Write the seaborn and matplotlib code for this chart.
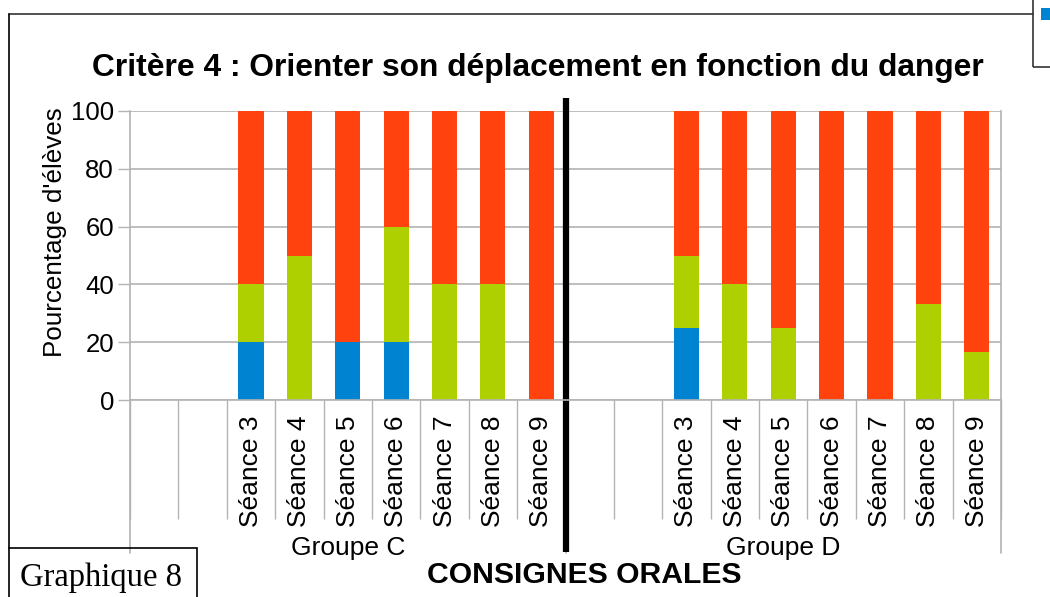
import numpy as np
import pandas as pd
import matplotlib
matplotlib.use("Agg")
import matplotlib.pyplot as plt
from matplotlib.patches import Rectangle
from matplotlib.lines import Line2D
import seaborn as sns

# données (pourcentage d'élèves)
groupes = ["Groupe C", "Groupe D"]
seances = ["Séance 3", "Séance 4", "Séance 5", "Séance 6", "Séance 7", "Séance 8", "Séance 9"]
bleu_c = [20, 0, 20, 20, 0, 0, 0]
vert_c = [20, 50, 0, 40, 40, 40, 0]
rouge_c = [60, 50, 80, 40, 60, 60, 100]
bleu_d = [25, 0, 0, 0, 0, 0, 0]
vert_d = [25, 40, 25, 0, 0, 33.3, 16.7]
rouge_d = [50, 60, 75, 100, 100, 66.7, 83.3]
vides = ["", ""]  # deux colonnes vides avant chaque groupe

c_bleu = "#0084d1"
c_vert = "#aecf00"
c_rouge = "#ff420e"
c_gris = "#b3b3b3"

rows = []
for g, b, v, r in [(groupes[0], bleu_c, vert_c, rouge_c), (groupes[1], bleu_d, vert_d, rouge_d)]:
    for s, bb, vv, rr in zip(seances, b, v, r):
        rows.append({"slot": g + "|" + s, "groupe": g, "bleu": bb, "vert": vv, "rouge": rr})
df = pd.DataFrame(rows)
df["bv"] = df["bleu"] + df["vert"]
df["total"] = df["bv"] + df["rouge"]

order = []
labels = []
for g in groupes:
    order += [g + "|vide" + str(i) for i in range(len(vides))]
    labels += vides
    order += [g + "|" + s for s in seances]
    labels += seances

sns.set_style("white")
plt.rcParams["font.family"] = ["Liberation Sans", "DejaVu Sans"]
plt.rcParams["text.color"] = "black"
plt.rcParams["axes.labelcolor"] = "black"
plt.rcParams["xtick.labelcolor"] = "black"
plt.rcParams["ytick.labelcolor"] = "black"

W, H = 1050, 597
fs = 19
fig = plt.figure(figsize=(W / 100, H / 100), dpi=100)
ax = fig.add_axes([130 / W, 1 - 400 / H, 871 / W, 289 / H])

# barres empilées par superposition
for col, c in [("total", c_rouge), ("bv", c_vert), ("bleu", c_bleu)]:
    sns.barplot(data=df, x="slot", y=col, order=order, color=c, saturation=1,
                width=0.52, errorbar=None, linewidth=0, ax=ax)

ax.set_xlim(-0.5, len(order) - 0.5)
ax.set_ylim(0, 100)
ax.set_yticks(range(0, 101, 20))
ax.set_axisbelow(True)
ax.yaxis.grid(True, color=c_gris, linewidth=1.2)
ax.tick_params(axis="y", left=True, labelsize=18.5, length=8.6, color=c_gris, pad=3, width=1,
               labelcolor="black")
ax.set_xticks(range(len(order)))
ax.set_xticklabels(labels, rotation=90, fontsize=fs)
ax.tick_params(axis="x", which="major", length=0, pad=11, labelcolor="black")
ax.set_xticks(np.arange(-0.5, len(order), 1), minor=True)
ax.tick_params(axis="x", which="minor", bottom=True, length=86, color=c_gris, width=1)
ax.set_xlabel("")
ax.set_ylabel("Pourcentage d'élèves", fontsize=18.7, color="black")
ax.yaxis.set_label_coords(-0.086, 0.581)
ax.yaxis.label.set_verticalalignment("center")
for side in ["left", "right", "bottom"]:
    ax.spines[side].set_color(c_gris)
    ax.spines[side].set_linewidth(1.2)
ax.spines["top"].set_visible(False)

# séparateurs de groupes et noms des groupes
n = len(vides) + len(seances)
trans = ax.get_xaxis_transform()
for k in range(len(groupes) + 1):
    ax.plot([k * n - 0.5] * 2, [0, -0.529], color=c_gris, lw=1.2, clip_on=False, transform=trans)
for k, g in enumerate(groupes):
    ax.text(k * n + (n - 1) / 2, -0.512, g, ha="center", va="center", fontsize=fs,
            color="black", transform=trans)

# trait noir : consignes orales
ax.plot([n - 0.5] * 2, [1.045, -0.526], color="black", lw=4.5, clip_on=False,
        transform=trans, solid_capstyle="butt")

fig.text(538 / W, 1 - 68 / H, "Critère 4 : Orienter son déplacement en fonction du danger",
         ha="center", va="center", fontsize=22.9, fontweight="bold", color="black")
fig.text(584 / W, 1 - 575 / H, "CONSIGNES ORALES", ha="center", va="center",
         fontsize=21.7, fontweight="bold", color="black")

# cadre du graphique, encadré "Graphique 8" et morceau de légende
fig.add_artist(Line2D([9 / W, 1033 / W], [1 - 14 / H, 1 - 14 / H], color="#333333", lw=1.2))
fig.add_artist(Line2D([9 / W, 9 / W], [1 - 14 / H, 1 - 548 / H], color="black", lw=1.2))
fig.add_artist(Rectangle((9 / W, -0.01), 188 / W, 1 - 548 / H + 0.01, fill=False,
                         edgecolor="black", lw=1.2, transform=fig.transFigure))
fig.text(20 / W, 1 - 578 / H, "Graphique 8", ha="left", va="center", fontsize=23.5,
         color="black", family=["Liberation Serif", "DejaVu Serif"])
fig.add_artist(Rectangle((1033 / W, 1 - 67 / H), 30 / W, 70 / H, fill=False,
                         edgecolor="#333333", lw=1.2, transform=fig.transFigure))
fig.add_artist(Rectangle((1041 / W, 1 - 20 / H), 12 / W, 12 / H, facecolor=c_bleu,
                         edgecolor="none", transform=fig.transFigure))

fig.savefig("out.png", dpi=100)
